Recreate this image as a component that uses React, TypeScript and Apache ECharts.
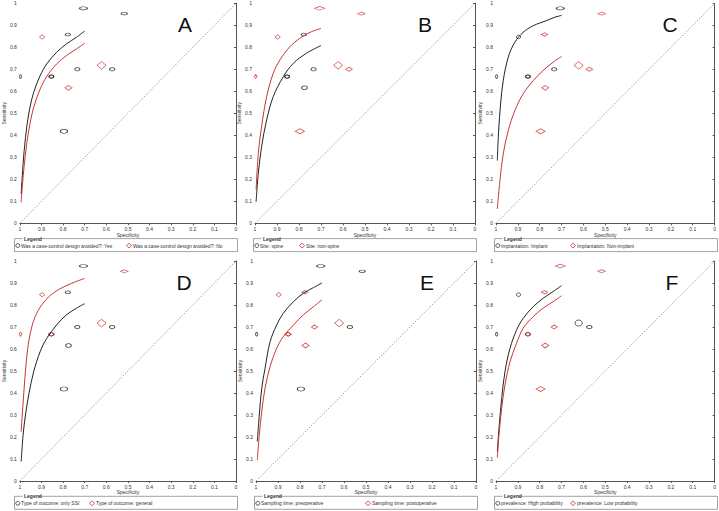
import React, { useEffect, useRef } from "react";
import * as echarts from "echarts";

const FONT = '"Liberation Sans", Arial, Helvetica, sans-serif';

// ---------- data ----------
const panelLetters = ["A", "B", "C", "D", "E", "F"];
const legendGroup1 = [
  "Was a case-control design avoided?: Yes",
  "Site: spine",
  "Implantation: Implant",
  "Type of outcome: only SSI",
  "Sampling time: preoperative",
  "prevalence: High probability",
];
const legendGroup2 = [
  "Was a case-control design avoided?: No",
  "Site: non-spine",
  "Implantation: Non-implant",
  "Type of outcome: general",
  "Sampling time: postoperative",
  "prevalence: Low probability",
];

// studies (specificity, sensitivity) and relative precision weights
const studySpec = [0.706, 0.517, 0.778, 0.734, 0.573, 0.854, 0.854, 0.997, 0.796, 0.897, 0.622, 0.775];
const studySens = [0.977, 0.953, 0.858, 0.7, 0.7, 0.667, 0.667, 0.667, 0.418, 0.847, 0.718, 0.616];
const studyWeightSpec = [8, 6, 5, 5, 5.3, 5, 4.6, 2.4, 7.3, 4.3, 7.3, 5.6];
const studyWeightSens = [3, 2.5, 2.8, 3.3, 3.3, 3.3, 3.1, 3.3, 4, 3.5, 6, 3.8];

// subgroup membership per panel (0 = first group, 1 = second group)
const groupA = [0, 0, 0, 0, 0, 0, 0, 0, 0, 1, 1, 1];
const groupB = [1, 1, 0, 0, 1, 0, 0, 1, 1, 1, 1, 0];
const groupC = [0, 1, 1, 0, 1, 0, 0, 0, 1, 0, 1, 1];
const groupD = [0, 1, 0, 0, 0, 0, 1, 1, 0, 1, 1, 0];
const groupE = [0, 0, 1, 1, 0, 1, 1, 0, 0, 1, 1, 1];
const groupF = [1, 1, 1, 1, 0, 0, 1, 0, 1, 0, 0, 1];

// SROC curves: [specificity, sensitivity]
const curveA1 = [[0.994, 0.133], [0.985, 0.27], [0.974, 0.39], [0.959, 0.497], [0.936, 0.595], [0.906, 0.671], [0.876, 0.724], [0.83, 0.777], [0.785, 0.815], [0.739, 0.845], [0.7, 0.874]];
const curveA2 = [[0.994, 0.095], [0.985, 0.209], [0.974, 0.315], [0.959, 0.421], [0.936, 0.527], [0.906, 0.61], [0.876, 0.667], [0.83, 0.724], [0.785, 0.762], [0.739, 0.792], [0.7, 0.818]];
const curveB1 = [[0.995, 0.098], [0.985, 0.227], [0.97, 0.348], [0.947, 0.47], [0.917, 0.576], [0.871, 0.667], [0.826, 0.727], [0.766, 0.773], [0.7, 0.808]];
const curveB2 = [[0.995, 0.152], [0.985, 0.318], [0.97, 0.44], [0.947, 0.576], [0.917, 0.682], [0.887, 0.742], [0.841, 0.803], [0.796, 0.841], [0.75, 0.868], [0.7, 0.886]];
const curveC1 = [[0.994, 0.285], [0.988, 0.42], [0.979, 0.542], [0.967, 0.648], [0.944, 0.755], [0.914, 0.823], [0.876, 0.868], [0.83, 0.898], [0.77, 0.921], [0.73, 0.937], [0.7, 0.945]];
const curveC2 = [[0.994, 0.065], [0.982, 0.194], [0.967, 0.315], [0.944, 0.421], [0.914, 0.512], [0.876, 0.588], [0.83, 0.648], [0.785, 0.694], [0.739, 0.732], [0.7, 0.758]];
const curveD1 = [[0.994, 0.088], [0.985, 0.209], [0.974, 0.3], [0.959, 0.391], [0.936, 0.497], [0.906, 0.588], [0.876, 0.648], [0.83, 0.709], [0.785, 0.755], [0.739, 0.785], [0.7, 0.806]];
const curveD2 = [[0.994, 0.224], [0.989, 0.3], [0.979, 0.436], [0.967, 0.573], [0.952, 0.671], [0.929, 0.747], [0.899, 0.8], [0.861, 0.842], [0.815, 0.873], [0.762, 0.898], [0.7, 0.921]];
const curveE1 = [[0.994, 0.179], [0.985, 0.3], [0.974, 0.421], [0.959, 0.512], [0.936, 0.633], [0.906, 0.709], [0.876, 0.762], [0.83, 0.815], [0.785, 0.853], [0.739, 0.879], [0.7, 0.9]];
const curveE2 = [[0.994, 0.095], [0.985, 0.209], [0.974, 0.315], [0.959, 0.421], [0.936, 0.52], [0.906, 0.603], [0.876, 0.656], [0.83, 0.709], [0.785, 0.755], [0.739, 0.792], [0.7, 0.824]];
const curveF1 = [[0.994, 0.133], [0.985, 0.255], [0.974, 0.376], [0.959, 0.497], [0.936, 0.603], [0.906, 0.686], [0.876, 0.739], [0.83, 0.792], [0.785, 0.83], [0.739, 0.861], [0.7, 0.888]];
const curveF2 = [[0.994, 0.106], [0.985, 0.224], [0.974, 0.33], [0.959, 0.436], [0.936, 0.542], [0.906, 0.626], [0.876, 0.694], [0.83, 0.747], [0.785, 0.785], [0.739, 0.815], [0.7, 0.842]];

const groups = [groupA, groupB, groupC, groupD, groupE, groupF];
const curves1 = [curveA1, curveB1, curveC1, curveD1, curveE1, curveF1];
const curves2 = [curveA2, curveB2, curveC2, curveD2, curveE2, curveF2];

// ---------- layout ----------
const SIZE = 220;
const panelPos = [
  { l: 16, t: 3.3, letterDx: 169, leg2: 113 },
  { l: 255, t: 3.3, letterDx: 170, leg2: 47 },
  { l: 496, t: 3.3, letterDx: 174, leg2: 77 },
  { l: 16, t: 261, letterDx: 168, leg2: 76 },
  { l: 256, t: 261, letterDx: 171, leg2: 112 },
  { l: 496, t: 261, letterDx: 176, leg2: 77 },
];
const BLACK = "#222222";
const RED = "#cc3333";
const DIAMOND_SCALE = 1.25;

export default function App() {
  const ref = useRef<HTMLDivElement>(null);

  useEffect(() => {
    if (!ref.current) return;
    const chart = echarts.init(ref.current, null, { renderer: "svg" });

    const grid: any[] = [];
    const xAxis: any[] = [];
    const yAxis: any[] = [];
    const series: any[] = [];
    const graphic: any[] = [];

    panelPos.forEach((p, i) => {
      grid.push({ left: p.l, top: p.t, width: SIZE, height: SIZE });
      const axisCommon = {
        gridIndex: i,
        type: "value",
        min: 0,
        max: 1,
        interval: 0.1,
        nameLocation: "middle",
        nameTextStyle: { fontSize: 5, color: "#333", fontFamily: FONT },
        axisLine: { show: true, lineStyle: { color: "#555", width: 1 } },
        axisTick: { show: true, length: 2, lineStyle: { color: "#555", width: 1 } },
        splitLine: { show: false },
      };
      xAxis.push({
        ...axisCommon,
        inverse: true,
        name: "Specificity",
        nameGap: 8,
        axisLabel: { fontSize: 5, color: "#333", fontFamily: FONT, margin: 3 },
      });
      yAxis.push({
        ...axisCommon,
        name: "Sensitivity",
        nameGap: 10,
        axisLabel: { fontSize: 5, color: "#333", fontFamily: FONT, margin: 3 },
      });

      // diagonal reference line
      series.push({
        type: "line",
        xAxisIndex: i,
        yAxisIndex: i,
        data: [[1, 0], [0, 1]],
        symbol: "none",
        silent: true,
        lineStyle: { color: "#8a8a8a", width: 0.8, type: [1.5, 1.5] },
      });
      // SROC curves
      series.push({
        type: "line",
        xAxisIndex: i,
        yAxisIndex: i,
        data: curves1[i],
        symbol: "none",
        smooth: 0.35,
        silent: true,
        lineStyle: { color: BLACK, width: 1 },
      });
      series.push({
        type: "line",
        xAxisIndex: i,
        yAxisIndex: i,
        data: curves2[i],
        symbol: "none",
        smooth: 0.35,
        silent: true,
        lineStyle: { color: RED, width: 1 },
      });

      const g = groups[i];
      const pts1: any[] = [];
      const pts2: any[] = [];
      g.forEach((grp, k) => {
        if (grp === 0) {
          pts1.push({
            value: [studySpec[k], studySens[k]],
            symbolSize: [studyWeightSpec[k], studyWeightSens[k]],
          });
        } else {
          pts2.push({
            value: [studySpec[k], studySens[k]],
            symbolSize: [studyWeightSpec[k] * DIAMOND_SCALE, studyWeightSens[k] * DIAMOND_SCALE],
          });
        }
      });
      series.push({
        type: "scatter",
        name: legendGroup1[i],
        xAxisIndex: i,
        yAxisIndex: i,
        symbol: "circle",
        clip: false,
        data: pts1,
        itemStyle: { color: "rgba(255,255,255,0)", borderColor: BLACK, borderWidth: 0.9 },
      });
      series.push({
        type: "scatter",
        name: legendGroup2[i],
        xAxisIndex: i,
        yAxisIndex: i,
        symbol: "diamond",
        clip: false,
        data: pts2,
        itemStyle: { color: "rgba(255,255,255,0)", borderColor: RED, borderWidth: 0.9 },
      });

      // panel letter
      graphic.push({
        type: "text",
        x: p.l + p.letterDx,
        y: p.t + 21,
        style: {
          text: panelLetters[i],
          font: `21px ${FONT}`,
          fill: "#111",
          align: "center",
          verticalAlign: "middle",
          textAlign: "center",
          textVerticalAlign: "middle",
        },
      });

      // legend box
      const bottom = p.t + SIZE;
      const boxTop = bottom + 15.3;
      const ey = bottom + 22.3;
      graphic.push({
        type: "rect",
        shape: { x: p.l - 1.5, y: boxTop, width: 223, height: 13 },
        style: { fill: "none", stroke: "#8c8c8c", lineWidth: 0.8 },
      });
      graphic.push({
        type: "rect",
        shape: { x: p.l + 6.5, y: boxTop - 2, width: 16, height: 4 },
        style: { fill: "#fff" },
      });
      graphic.push({
        type: "text",
        x: p.l + 8,
        y: boxTop,
        style: {
          text: "Legend",
          font: `bold 5px ${FONT}`,
          fill: "#333",
          align: "left",
          verticalAlign: "middle",
          textAlign: "left",
          textVerticalAlign: "middle",
        },
      });
      graphic.push({
        type: "ellipse",
        shape: { cx: p.l + 1.8, cy: ey, rx: 2, ry: 1.9 },
        style: { fill: "none", stroke: BLACK, lineWidth: 0.8 },
      });
      graphic.push({
        type: "text",
        x: p.l + 5,
        y: ey,
        style: {
          text: legendGroup1[i],
          font: `5px ${FONT}`,
          fill: "#333",
          align: "left",
          verticalAlign: "middle",
          textAlign: "left",
          textVerticalAlign: "middle",
        },
      });
      const dx = p.l + p.leg2;
      graphic.push({
        type: "polygon",
        shape: { points: [[dx, ey - 2.4], [dx + 2.6, ey], [dx, ey + 2.4], [dx - 2.6, ey]] },
        style: { fill: "none", stroke: RED, lineWidth: 0.8 },
      });
      graphic.push({
        type: "text",
        x: dx + 4,
        y: ey,
        style: {
          text: legendGroup2[i],
          font: `5px ${FONT}`,
          fill: "#333",
          align: "left",
          verticalAlign: "middle",
          textAlign: "left",
          textVerticalAlign: "middle",
        },
      });
    });

    chart.setOption({
      animation: false,
      backgroundColor: "#ffffff",
      textStyle: { fontFamily: FONT },
      grid,
      xAxis,
      yAxis,
      series,
      graphic,
    });

    return () => chart.dispose();
  }, []);

  return (
    <div
      ref={ref}
      style={{ position: "absolute", left: 0, top: 0, width: 719, height: 511, background: "#fff" }}
    />
  );
}
